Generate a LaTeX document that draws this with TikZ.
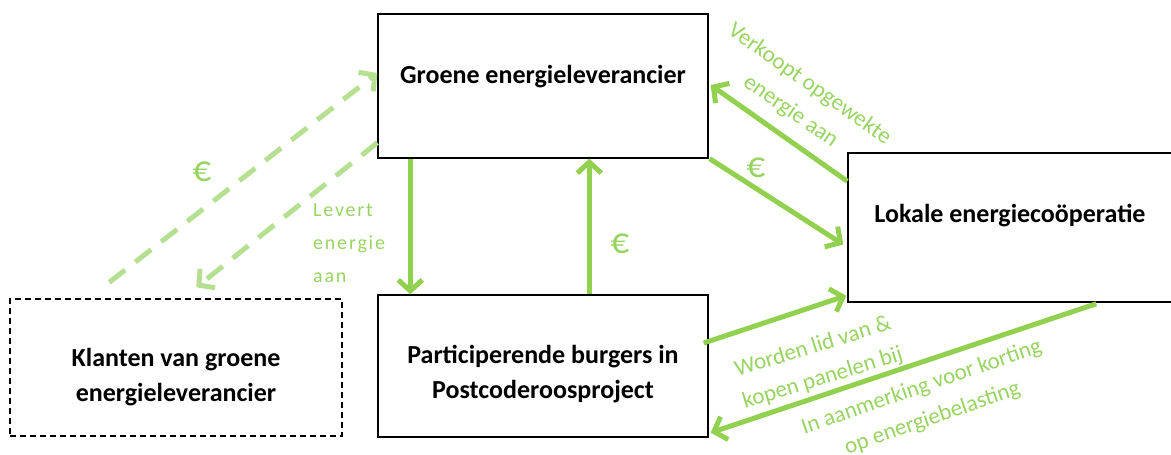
\documentclass[tikz,border=0pt]{standalone}
\usepackage{fontspec}
\setmainfont{Carlito}
\usetikzlibrary{arrows.meta}
\definecolor{arrowgreen}{RGB}{146,208,80}
\definecolor{dashgreen}{RGB}{182,224,145}
\definecolor{labelgreen}{RGB}{152,212,98}

\begin{document}
\begin{tikzpicture}[x=1pt,y=-1pt,
  box/.style={draw=black, line width=1.4pt, inner sep=0pt},
  dashbox/.style={box, dash pattern=on 6pt off 4pt},
  boxtext/.style={font=\fontsize{26}{35}\selectfont\bfseries, align=center, text=black},
  flow/.style={draw=arrowgreen, line width=5pt, -{Straight Barb[length=11pt,width=24pt]}},
  dashflow/.style={draw=dashgreen, line width=5pt, dash pattern=on 20pt off 13pt,
    -{Straight Barb[length=11pt,width=24pt]}},
  lbl/.style={font=\fontsize{23}{33}\selectfont, text=labelgreen, align=center, inner sep=0pt},
  euro/.style={font=\fontsize{37}{37}\selectfont, text=labelgreen, inner sep=0pt}
]
\useasboundingbox (0,0) rectangle (1171,455);

% the four parties
\node[box, minimum width=330pt, minimum height=144pt,
  label={[boxtext, yshift=9pt]center:Groene energieleverancier}] (groene) at (543,86) {};
\node[box, minimum width=330pt, minimum height=142pt,
  label={[boxtext, yshift=-8pt]center:Participerende burgers in\\Postcoderoosproject}] (burgers) at (543,366) {};
\node[box, minimum width=324pt, minimum height=149pt,
  label={[boxtext, yshift=12pt]center:Lokale energieco\"operatie}] (lokaal) at (1010,227.5) {};
\node[dashbox, minimum width=332pt, minimum height=137pt,
  label={[boxtext, yshift=-10pt]center:Klanten van groene\\energieleverancier}] (klanten) at (176,367.5) {};

% flows between supplier and its customers
\draw[dashflow] ([xshift=100pt, yshift=16pt]klanten.north west) -- ([yshift=13pt]groene.west);
\draw[dashflow] ([yshift=16pt]groene.south west) -- ([xshift=187pt, yshift=11pt]klanten.north west);

% flows between supplier and participants
\draw[flow] ([xshift=33pt]groene.south west) -- ([xshift=33pt]burgers.north west);
\draw[flow] ([xshift=212pt]burgers.north west) -- ([xshift=212pt]groene.south west);

% flows between supplier and cooperative
\draw[flow] ([yshift=-29pt]lokaal.north west) -- ([xshift=2pt, yshift=1pt]groene.east);
\draw[flow] ([xshift=1pt]groene.south east) -- ([xshift=-4pt, yshift=-17pt]lokaal.west);

% flows between participants and cooperative
\draw[flow] ([xshift=-5pt, yshift=23pt]burgers.east) -- ([xshift=-1pt, yshift=7pt]lokaal.south west);
\draw[flow] ([xshift=249pt, yshift=-1pt]lokaal.south west) -- ([xshift=2pt, yshift=5pt]burgers.south east);

% labels
\node[euro] (e1) at (202,172) {€};
\node[euro] (e2) at (620,244) {€};
\node[euro] (e3) at (756,168) {€};
\node[lbl, anchor=west, align=left,
  font=\fontsize{20}{33}\selectfont\addfontfeature{LetterSpace=9}] (levert) at (313,243)
  {Levert\\energie\\aan};
\node[lbl, rotate=-35] (verkoopt) at (800,98) {Verkoopt opgewekte\\energie aan};
\node[lbl, rotate=17] (worden) at (818,363) {Worden lid van \&\\kopen panelen bij};
\node[lbl, rotate=19] (korting) at (927,403) {In aanmerking voor korting\\op energiebelasting};
\end{tikzpicture}
\end{document}
